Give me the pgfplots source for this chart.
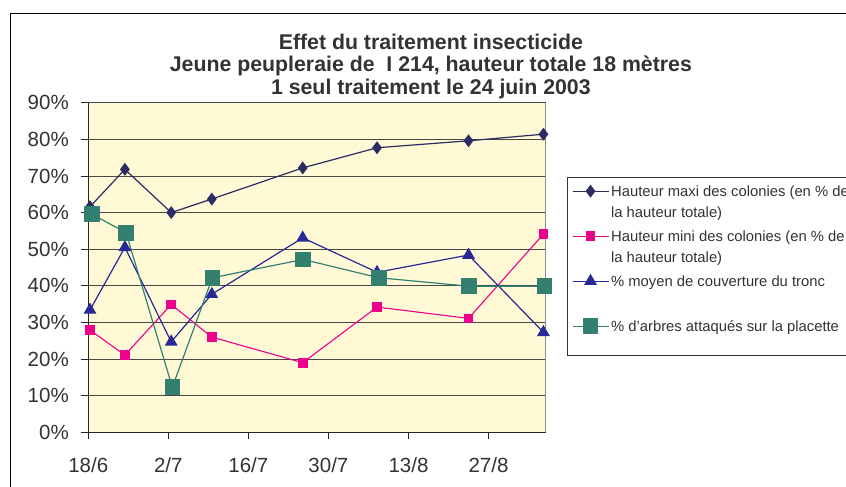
\documentclass[border=0pt]{standalone}
\usepackage{pgfplots}
\pgfplotsset{compat=1.18}
\usepackage{fontspec}
\setmainfont{Liberation Sans}
\definecolor{plotbg}{RGB}{255,249,214}
\definecolor{sA}{RGB}{44,44,100}
\definecolor{sB}{RGB}{236,0,140}
\definecolor{sC}{RGB}{40,40,150}
\definecolor{sD}{RGB}{52,128,112}
\definecolor{txt}{RGB}{51,51,51}
\newcommand{\lstrut}{\rule[-26pt]{0pt}{45pt}}
\begin{document}
\begin{tikzpicture}[x=1pt,y=1pt]
\useasboundingbox (0,0) rectangle (846,487);
\fill[white] (0,0) rectangle (846,487);
\draw[black, line width=1pt] (10,473) rectangle (900,-20);
\begin{axis}[
  at={(88.3pt,54.7pt)}, anchor=south west,
  scale only axis, width=457.4pt, height=329.6pt,
  xmin=0, xmax=80, ymin=0, ymax=90,
  axis lines*=left,
  axis line style={black!85, line width=0.9pt},
  axis background/.style={fill=plotbg},
  clip=false,
  xtick={0,14,28,42,56,70},
  xticklabels={18/6,2/7,16/7,30/7,13/8,27/8},
  ytick={0,10,...,90},
  yticklabels={0\%,10\%,20\%,30\%,40\%,50\%,60\%,70\%,80\%,90\%},
  ymajorgrids, grid style={black!72, line width=0.8pt},
  tick align=outside, major tick length=7pt,
  tick style={black!85, line width=0.8pt},
  ticklabel style={font=\fontsize{20.5}{24}\selectfont, text=txt},
  yticklabel style={xshift=-9pt},
  xticklabel style={yshift=-15pt},
  title={\begin{tabular}[t]{c}Effet du traitement insecticide\\Jeune peupleraie de\ \ I 214, hauteur totale 18 mètres\\1 seul traitement le 24 juin 2003\end{tabular}},
  title style={at={(axis description cs:0.749,1.1447)}, anchor=base, font=\bfseries\fontsize{21.3}{22.5}\selectfont, text=txt, inner sep=0pt},
  legend style={at={(axis description cs:1.0466,0.7808)}, anchor=north west,
    draw=none, fill=none, inner xsep=4.7pt, inner ysep=0pt,
    font=\fontsize{14.8}{21}\selectfont, text=txt,
    cells={anchor=base west, inner ysep=0pt, inner xsep=5pt},
    column sep=0pt, row sep={45pt,between origins}},
  legend image code/.code={\draw[mark repeat=2,mark phase=2,yshift=5pt,#1] plot coordinates {(0pt,0pt) (18pt,0pt) (36pt,0pt)};},
]
\draw[black!80, line width=0.8pt, fill=white] (rel axis cs:1.0466,0.2324) rectangle (rel axis cs:1.8,0.7746);
\addplot[color=sA, line width=1.2pt, mark=diamond*, mark size=5.5pt, mark options={solid, fill=sA}] coordinates {
(0.3,61.6) (6.4,71.8) (14.5,60.0) (21.6,63.7) (37.5,72.2) (50.5,77.7) (66.5,79.6) (79.6,81.4)};
\addlegendentry{\lstrut\begin{tabular}[t]{@{}l@{}}Hauteur maxi des colonies (en \% de\\la hauteur totale)\end{tabular}}
\addplot[color=sB, line width=1.1pt, mark=square*, mark size=4.3pt, mark options={solid, fill=sB}] coordinates {
(0.3,27.9) (6.4,21.1) (14.5,34.9) (21.6,26.0) (37.5,19.0) (50.5,34.2) (66.5,31.1) (79.6,54.1)};
\addlegendentry{\lstrut\begin{tabular}[t]{@{}l@{}}Hauteur mini des colonies (en \% de\\la hauteur totale)\end{tabular}}
\addplot[color=sC, line width=1.2pt, mark=triangle*, mark size=6.2pt, mark options={solid, fill=sC}] coordinates {
(0.3,33.4) (6.4,50.5) (14.5,24.7) (21.6,37.7) (37.5,53.1) (50.5,43.7) (66.5,48.4) (79.6,27.3)};
\addlegendentry{\lstrut\% moyen de couverture du tronc}
\addplot[color=sD, line width=1.2pt, mark=square*, mark size=7.2pt, mark options={solid, fill=sD}] coordinates {
(0.6,59.6) (6.6,54.5) (14.7,12.3) (21.7,42.2) (37.6,47.2) (50.8,42.2) (66.6,39.9) (79.8,39.9)};
\addlegendentry{\lstrut\% d'arbres attaqués sur la placette}
\draw[black!45, line width=1pt] (rel axis cs:1,0) -- (rel axis cs:1,1);
\end{axis}
\end{tikzpicture}
\end{document}
